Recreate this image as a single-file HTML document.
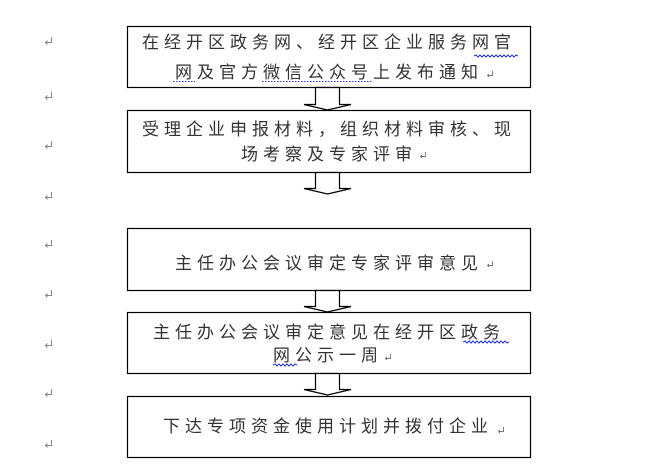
<!DOCTYPE html>
<html><head><meta charset="utf-8">
<style>
html,body{margin:0;padding:0;background:#fff;}
#c{position:relative;width:647px;height:467px;overflow:hidden;background:#fff;}
svg{position:absolute;left:0;top:0;}
.t{position:absolute;font-family:"Liberation Sans","Noto Sans CJK SC",sans-serif;font-size:17px;line-height:17px;height:17px;letter-spacing:5px;color:#333;white-space:nowrap;}
</style></head><body>
<div id="c">
<svg width="647" height="467" viewBox="0 0 647 467">
  <g fill="#fff" stroke="#000" stroke-width="1.2">
    <rect x="127.5" y="26.5" width="403" height="61"/>
    <rect x="127.5" y="110.5" width="403" height="62"/>
    <rect x="127.5" y="228.5" width="403" height="62"/>
    <rect x="127.5" y="312.5" width="403" height="61"/>
    <rect x="127.5" y="396.5" width="403" height="61"/>
  </g>
  <g fill="#fff" stroke="#000" stroke-width="1.2" stroke-linejoin="miter">
    <polygon points="315.5,87.5 315.5,104.5 304,104.5 327.5,110 351,104.5 339.5,104.5 339.5,87.5"/>
    <polygon points="315.5,172.5 315.5,188.5 304,188.5 327.5,194 351,188.5 339.5,188.5 339.5,172.5"/>
    <polygon points="315.5,290.5 315.5,306.5 304,306.5 327.5,312 351,306.5 339.5,306.5 339.5,290.5"/>
    <polygon points="315.5,373.5 315.5,389.5 304,389.5 327.5,395 351,389.5 339.5,389.5 339.5,373.5"/>
  </g>
  <g fill="none" stroke="#2233dd" stroke-width="1">
    <polyline points="474,56 476,55 478,57 480,55 482,57 484,55 486,57 488,55 490,57 492,55 494,57 496,55 498,57 500,55 502,57 504,55 506,57 508,55 510,57 512,55 514,57 516,55 518,56"/>
    <polyline points="463,342 465,341 467,343 469,341 471,343 473,341 475,343 477,341 479,343 481,341 483,343 485,341 487,343 489,341 491,343 493,341 495,343 497,341 499,343 501,341 503,343 505,341 507,343 509,342"/>
    <polyline points="273,365 275,364 277,366 279,364 281,366 283,364 285,366 287,364 289,366 291,364 293,366 295,364 297,365"/>
    <line x1="173" y1="81.5" x2="195" y2="81.5" stroke-dasharray="1.5 1.5"/>
    <line x1="262" y1="81.5" x2="373" y2="81.5" stroke-dasharray="1.5 1.5"/>
  </g>
  <g fill="none" stroke="#888" stroke-width="1">
    <path d="M51.5,37 V42.5 H45.5 M47.5,40.5 L45.5,42.5 L47.5,44.5"/>
    <path d="M51.5,92 V97.5 H45.5 M47.5,95.5 L45.5,97.5 L47.5,99.5"/>
    <path d="M51.5,141 V146.5 H45.5 M47.5,144.5 L45.5,146.5 L47.5,148.5"/>
    <path d="M51.5,192 V197.5 H45.5 M47.5,195.5 L45.5,197.5 L47.5,199.5"/>
    <path d="M51.5,240 V245.5 H45.5 M47.5,243.5 L45.5,245.5 L47.5,247.5"/>
    <path d="M51.5,290 V295.5 H45.5 M47.5,293.5 L45.5,295.5 L47.5,297.5"/>
    <path d="M51.5,340 V345.5 H45.5 M47.5,343.5 L45.5,345.5 L47.5,347.5"/>
    <path d="M51.5,389 V394.5 H45.5 M47.5,392.5 L45.5,394.5 L47.5,396.5"/>
    <path d="M51.5,440 V445.5 H45.5 M47.5,443.5 L45.5,445.5 L47.5,447.5"/>
  </g>
  <g fill="none" stroke="#777" stroke-width="0.9">
    <path d="M492.5,71 V75.5 H487.5 M489,74 L487.5,75.5 L489,77"/>
    <path d="M425.5,152 V156.5 H420.5 M422,155 L420.5,156.5 L422,158"/>
    <path d="M492.5,261 V265.5 H487.5 M489,264 L487.5,265.5 L489,267"/>
    <path d="M390.5,354 V358.5 H385.5 M387,357 L385.5,358.5 L387,360"/>
    <path d="M503.5,427 V431.5 H498.5 M500,430 L498.5,431.5 L500,433"/>
  </g>
</svg>
<div class="t" style="left:142px;top:34px;">在经开区政务网、经开区企业服务网官</div>
<div class="t" style="left:175px;top:64px;">网及官方微信公众号上发布通知</div>
<div class="t" style="left:142px;top:121px;">受理企业申报材料，组织材料审核、现</div>
<div class="t" style="left:241px;top:146px;">场考察及专家评审</div>
<div class="t" style="left:175px;top:255px;">主任办公会议审定专家评审意见</div>
<div class="t" style="left:153px;top:324px;">主任办公会议审定意见在经开区政务</div>
<div class="t" style="left:273px;top:347px;">网公示一周</div>
<div class="t" style="left:163px;top:418px;">下达专项资金使用计划并拨付企业</div>
</div>
</body></html>
